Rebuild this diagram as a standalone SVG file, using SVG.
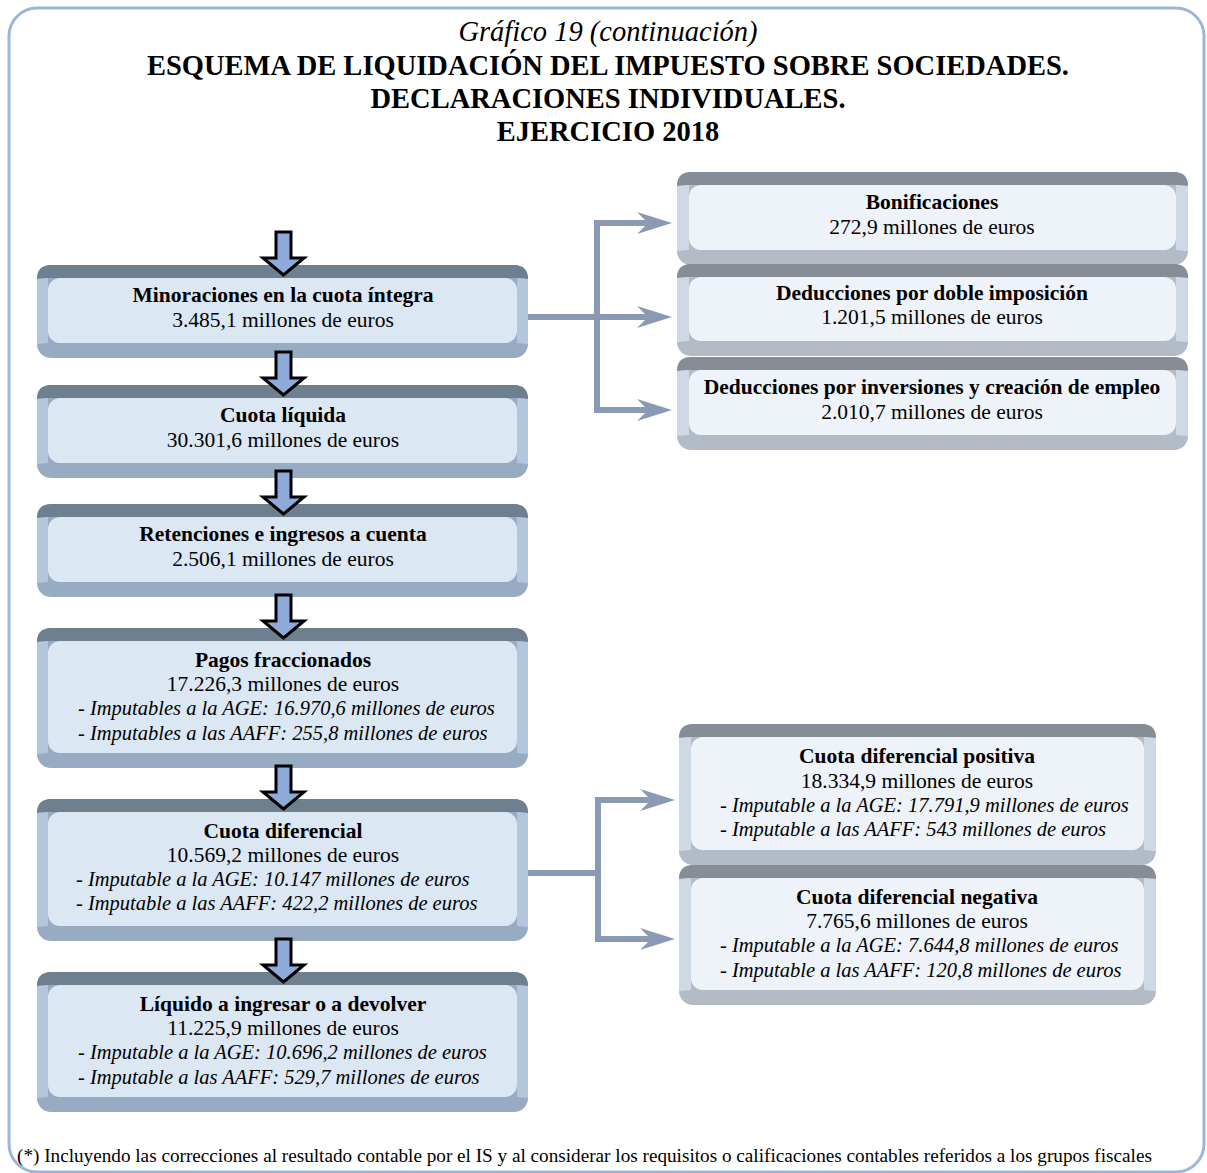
<svg xmlns="http://www.w3.org/2000/svg" width="1207" height="1173" viewBox="0 0 1207 1173">
<style>
text{font-family:"Liberation Serif","Times New Roman",serif;fill:#000;text-anchor:middle}
.t{font-size:28.5px}
.b{font-weight:bold;font-size:21.5px}
.n{font-size:21.5px}
.i{font-style:italic;font-size:20.5px;text-anchor:start}
.foot{font-size:19.2px;text-anchor:start}
.lo{fill:#97abc2}.lt{fill:#6e7f8f}.ls{fill:#b3c6dc}.lf{fill:#dce7f4}
.ro{fill:#b3bbc6}.rt{fill:#868d96}.rs{fill:#cfd9e5}.rf{fill:#eef3fa}
.conn{fill:none;stroke:#8a9ab5;stroke-width:6}
.ah{fill:#8a9ab5}
.dn{fill:#8eaadb;stroke:#000;stroke-width:3;stroke-linejoin:miter}
</style>
<rect x="0" y="0" width="1207" height="1173" fill="#fff"/>
<rect id="frame" x="9" y="8" width="1195" height="1164" rx="28" fill="none" stroke="#9ab6dc" stroke-width="3"/>
<g id="title">
<text class="t" x="608" y="41" font-style="italic">Gráfico 19 (continuación)</text>
<text class="t" x="608" y="75" font-weight="bold">ESQUEMA DE LIQUIDACIÓN DEL IMPUESTO SOBRE SOCIEDADES.</text>
<text class="t" x="608" y="108" font-weight="bold">DECLARACIONES INDIVIDUALES.</text>
<text class="t" x="608" y="141" font-weight="bold">EJERCICIO 2018</text>
</g>
<g id="connectors">
<path class="conn" d="M528,317 H660 M660,223 H597 V410 H660"/>
<path class="conn" d="M528,873 H598 M663,800 H598 V939 H663"/>
<polygon class="ah" points="672,223 637,212 648,223 637,234"/>
<polygon class="ah" points="672,317 637,306 648,317 637,328"/>
<polygon class="ah" points="672,410 637,399 648,410 637,421"/>
<polygon class="ah" points="675,800 640,789 651,800 640,811"/>
<polygon class="ah" points="675,939 640,928 651,939 640,950"/>
</g>
<g id="n-minoraciones">
<rect class="lo" x="37" y="265" width="491" height="93" rx="14"/>
<path class="lt" d="M37,279 Q37,265 51,265 H514 Q528,265 528,279 L517,278 H48 Z"/>
<path class="ls" d="M37,279 L48,278 V343 L37,344 Z"/>
<path class="ls" d="M528,279 L517,278 V343 L528,344 Z"/>
<rect class="lf" x="48" y="278" width="469" height="65" rx="12"/>
<text class="b" x="283" y="302">Minoraciones en la cuota íntegra</text>
<text class="n" x="283" y="327">3.485,1 millones de euros</text>
</g>
<g id="n-cuota-liquida">
<rect class="lo" x="37" y="385" width="491" height="93" rx="14"/>
<path class="lt" d="M37,399 Q37,385 51,385 H514 Q528,385 528,399 L517,398 H48 Z"/>
<path class="ls" d="M37,399 L48,398 V463 L37,464 Z"/>
<path class="ls" d="M528,399 L517,398 V463 L528,464 Z"/>
<rect class="lf" x="48" y="398" width="469" height="65" rx="12"/>
<text class="b" x="283" y="422">Cuota líquida</text>
<text class="n" x="283" y="447">30.301,6 millones de euros</text>
</g>
<g id="n-retenciones">
<rect class="lo" x="37" y="504" width="491" height="93" rx="14"/>
<path class="lt" d="M37,518 Q37,504 51,504 H514 Q528,504 528,518 L517,517 H48 Z"/>
<path class="ls" d="M37,518 L48,517 V582 L37,583 Z"/>
<path class="ls" d="M528,518 L517,517 V582 L528,583 Z"/>
<rect class="lf" x="48" y="517" width="469" height="65" rx="12"/>
<text class="b" x="283" y="541">Retenciones e ingresos a cuenta</text>
<text class="n" x="283" y="566">2.506,1 millones de euros</text>
</g>
<g id="n-pagos">
<rect class="lo" x="37" y="628" width="491" height="140" rx="14"/>
<path class="lt" d="M37,642 Q37,628 51,628 H514 Q528,628 528,642 L517,641 H48 Z"/>
<path class="ls" d="M37,642 L48,641 V753 L37,754 Z"/>
<path class="ls" d="M528,642 L517,641 V753 L528,754 Z"/>
<rect class="lf" x="48" y="641" width="469" height="112" rx="12"/>
<text class="b" x="283" y="667">Pagos fraccionados</text>
<text class="n" x="283" y="691">17.226,3 millones de euros</text>
<text class="i" x="78" y="715">- Imputables a la AGE: 16.970,6 millones de euros</text>
<text class="i" x="78" y="740">- Imputables a las AAFF: 255,8 millones de euros</text>
</g>
<g id="n-cuota-diferencial">
<rect class="lo" x="37" y="799" width="491" height="142" rx="14"/>
<path class="lt" d="M37,813 Q37,799 51,799 H514 Q528,799 528,813 L517,812 H48 Z"/>
<path class="ls" d="M37,813 L48,812 V926 L37,927 Z"/>
<path class="ls" d="M528,813 L517,812 V926 L528,927 Z"/>
<rect class="lf" x="48" y="812" width="469" height="114" rx="12"/>
<text class="b" x="283" y="838">Cuota diferencial</text>
<text class="n" x="283" y="862">10.569,2 millones de euros</text>
<text class="i" x="76" y="886">- Imputable a la AGE: 10.147 millones de euros</text>
<text class="i" x="76" y="910">- Imputable a las AAFF: 422,2 millones de euros</text>
</g>
<g id="n-liquido">
<rect class="lo" x="37" y="972" width="491" height="140" rx="14"/>
<path class="lt" d="M37,986 Q37,972 51,972 H514 Q528,972 528,986 L517,985 H48 Z"/>
<path class="ls" d="M37,986 L48,985 V1097 L37,1098 Z"/>
<path class="ls" d="M528,986 L517,985 V1097 L528,1098 Z"/>
<rect class="lf" x="48" y="985" width="469" height="112" rx="12"/>
<text class="b" x="283" y="1011">Líquido a ingresar o a devolver</text>
<text class="n" x="283" y="1035">11.225,9 millones de euros</text>
<text class="i" x="78" y="1059">- Imputable a la AGE: 10.696,2 millones de euros</text>
<text class="i" x="78" y="1084">- Imputable a las AAFF: 529,7 millones de euros</text>
</g>
<g id="n-bonificaciones">
<rect class="ro" x="677" y="172" width="511" height="93" rx="14"/>
<path class="rt" d="M677,186 Q677,172 691,172 H1174 Q1188,172 1188,186 L1176,185 H689 Z"/>
<path class="rs" d="M677,186 L689,185 V250 L677,251 Z"/>
<path class="rs" d="M1188,186 L1176,185 V250 L1188,251 Z"/>
<rect class="rf" x="689" y="185" width="487" height="65" rx="12"/>
<text class="b" x="932" y="209">Bonificaciones</text>
<text class="n" x="932" y="234">272,9 millones de euros</text>
</g>
<g id="n-doble-imposicion">
<rect class="ro" x="677" y="264" width="511" height="92" rx="14"/>
<path class="rt" d="M677,278 Q677,264 691,264 H1174 Q1188,264 1188,278 L1176,277 H689 Z"/>
<path class="rs" d="M677,278 L689,277 V341 L677,342 Z"/>
<path class="rs" d="M1188,278 L1176,277 V341 L1188,342 Z"/>
<rect class="rf" x="689" y="277" width="487" height="64" rx="12"/>
<text class="b" x="932" y="300">Deducciones por doble imposición</text>
<text class="n" x="932" y="324">1.201,5 millones de euros</text>
</g>
<g id="n-inversiones">
<rect class="ro" x="677" y="357" width="511" height="93" rx="14"/>
<path class="rt" d="M677,371 Q677,357 691,357 H1174 Q1188,357 1188,371 L1176,370 H689 Z"/>
<path class="rs" d="M677,371 L689,370 V435 L677,436 Z"/>
<path class="rs" d="M1188,371 L1176,370 V435 L1188,436 Z"/>
<rect class="rf" x="689" y="370" width="487" height="65" rx="12"/>
<text class="b" x="932" y="394">Deducciones por inversiones y creación de empleo</text>
<text class="n" x="932" y="419">2.010,7 millones de euros</text>
</g>
<g id="n-positiva">
<rect class="ro" x="679" y="724" width="477" height="141" rx="14"/>
<path class="rt" d="M679,738 Q679,724 693,724 H1142 Q1156,724 1156,738 L1144,737 H691 Z"/>
<path class="rs" d="M679,738 L691,737 V850 L679,851 Z"/>
<path class="rs" d="M1156,738 L1144,737 V850 L1156,851 Z"/>
<rect class="rf" x="691" y="737" width="453" height="113" rx="12"/>
<text class="b" x="917" y="763">Cuota diferencial positiva</text>
<text class="n" x="917" y="788">18.334,9 millones de euros</text>
<text class="i" x="720" y="812">- Imputable a la AGE: 17.791,9 millones de euros</text>
<text class="i" x="720" y="836">- Imputable a las AAFF: 543 millones de euros</text>
</g>
<g id="n-negativa">
<rect class="ro" x="679" y="865" width="477" height="140" rx="14"/>
<path class="rt" d="M679,879 Q679,865 693,865 H1142 Q1156,865 1156,879 L1144,878 H691 Z"/>
<path class="rs" d="M679,879 L691,878 V990 L679,991 Z"/>
<path class="rs" d="M1156,879 L1144,878 V990 L1156,991 Z"/>
<rect class="rf" x="691" y="878" width="453" height="112" rx="12"/>
<text class="b" x="917" y="904">Cuota diferencial negativa</text>
<text class="n" x="917" y="928">7.765,6 millones de euros</text>
<text class="i" x="720" y="952">- Imputable a la AGE: 7.644,8 millones de euros</text>
<text class="i" x="720" y="977">- Imputable a las AAFF: 120,8 millones de euros</text>
</g>
<g id="flow-arrows">
<path class="dn" d="M276,232 H291 V258 H304 L283.5,275 L263,258 H276 Z"/>
<path class="dn" d="M276,352 H291 V378 H304 L283.5,395 L263,378 H276 Z"/>
<path class="dn" d="M276,471 H291 V497 H304 L283.5,514 L263,497 H276 Z"/>
<path class="dn" d="M276,595 H291 V621 H304 L283.5,638 L263,621 H276 Z"/>
<path class="dn" d="M276,766 H291 V792 H304 L283.5,809 L263,792 H276 Z"/>
<path class="dn" d="M276,939 H291 V965 H304 L283.5,982 L263,965 H276 Z"/>
</g>
<text class="foot" x="17" y="1162">(*) Incluyendo las correcciones al resultado contable por el IS y al considerar los requisitos o calificaciones contables referidos a los grupos fiscales</text>
</svg>
